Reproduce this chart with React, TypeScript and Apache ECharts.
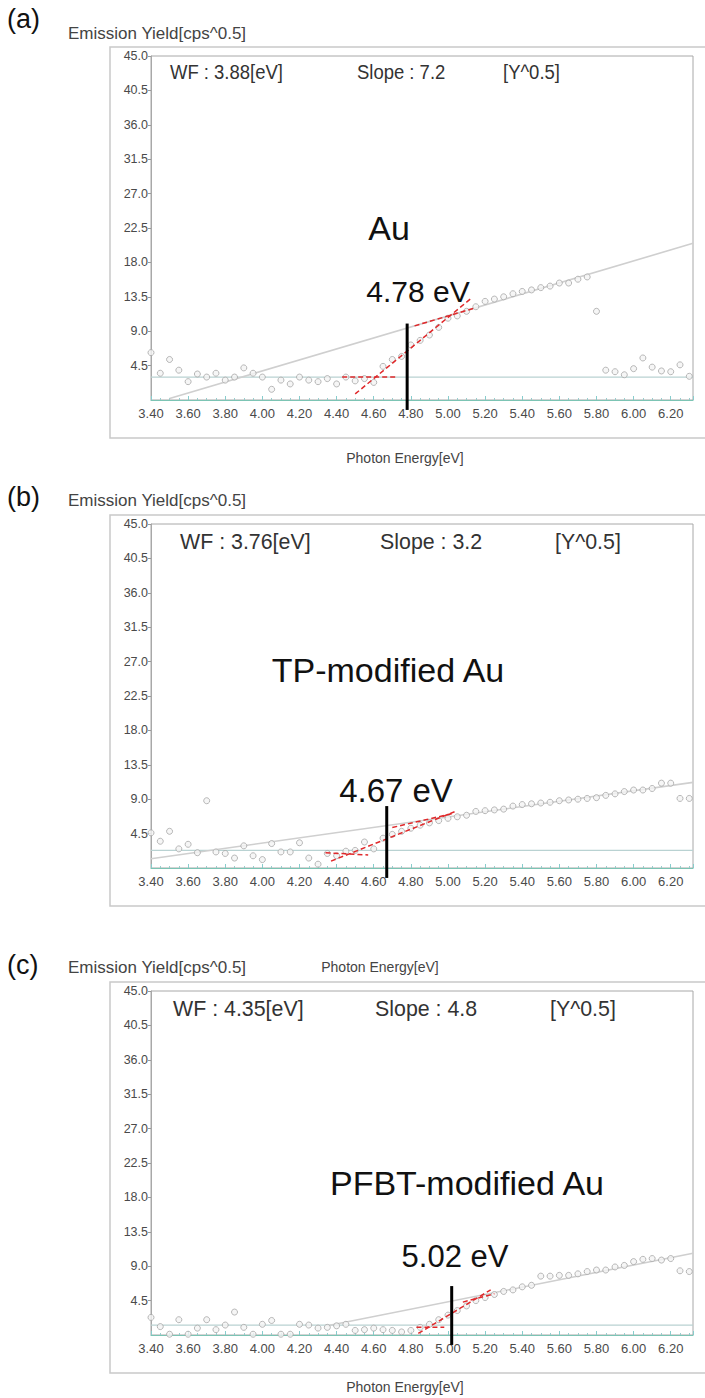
import React, { useEffect, useRef } from "react";
import * as echarts from "echarts";

// ---------- data ----------
const energies = [
  3.40, 3.45, 3.50, 3.55, 3.60, 3.65, 3.70, 3.75, 3.80, 3.85,
  3.90, 3.95, 4.00, 4.05, 4.10, 4.15, 4.20, 4.25, 4.30, 4.35,
  4.40, 4.45, 4.50, 4.55, 4.60, 4.65, 4.70, 4.75, 4.80, 4.85,
  4.90, 4.95, 5.00, 5.05, 5.10, 5.15, 5.20, 5.25, 5.30, 5.35,
  5.40, 5.45, 5.50, 5.55, 5.60, 5.65, 5.70, 5.75, 5.80, 5.85,
  5.90, 5.95, 6.00, 6.05, 6.10, 6.15, 6.20, 6.25, 6.30,
];

const yieldAu = [
  6.2, 3.5, 5.3, 3.9, 2.4, 3.4, 3.0, 3.5, 2.6, 3.0,
  4.2, 3.5, 3.0, 1.4, 2.6, 2.1, 3.0, 2.6, 2.4, 2.8,
  2.1, 3.0, 2.5, 2.8, 2.3, 4.4, 5.3, 5.7, 7.2, 7.8,
  8.5, 9.5, 10.7, 11.0, 11.6, 12.2, 12.9, 13.2, 13.5, 13.9,
  14.2, 14.4, 14.7, 14.9, 15.3, 15.3, 15.8, 16.1, 11.6, 3.9,
  3.7, 3.3, 4.1, 5.5, 4.3, 3.8, 3.7, 4.6, 3.1,
];

const yieldTP = [
  4.6, 3.5, 4.8, 2.5, 3.1, 2.0, 8.8, 2.1, 1.9, 1.3,
  2.9, 1.6, 1.1, 3.2, 2.1, 2.1, 3.3, 1.3, 0.5, 1.9,
  1.6, 2.2, 2.3, 3.4, 2.5, 3.9, 4.4, 4.8, 5.2, 5.6,
  5.9, 6.2, 6.5, 6.7, 6.9, 7.4, 7.5, 7.6, 7.7, 8.1,
  8.3, 8.4, 8.5, 8.6, 8.8, 8.9, 9.0, 9.1, 9.2, 9.5,
  9.7, 10.0, 10.2, 10.2, 10.4, 11.1, 11.1, 9.1, 9.1,
];

const yieldPFBT = [
  2.3, 1.1, 0.1, 2.0, 0.1, 0.9, 2.0, 0.7, 1.3, 3.0,
  1.0, 0.1, 1.4, 1.9, 0.1, 0.1, 1.4, 1.3, 0.9, 1.0,
  1.2, 1.4, 0.6, 0.7, 0.9, 0.7, 0.6, 0.4, 0.6, 1.0,
  1.4, 2.0, 2.6, 3.2, 3.8, 4.5, 4.9, 5.3, 5.7, 5.9,
  6.3, 6.5, 7.7, 7.7, 7.8, 7.8, 8.0, 8.3, 8.5, 8.5,
  8.9, 9.1, 9.6, 9.9, 10.0, 9.8, 10.0, 8.4, 8.3,
];

// regression / guide lines [x, y]
const fitAu = [[3.50, 0.2], [6.32, 20.5]];
const baseAu = [[3.40, 3.0], [6.32, 3.0]];
const tangentsAu = [
  [[4.43, 3.0], [4.73, 3.0]],
  [[4.50, 0.8], [5.12, 13.2]],
  [[4.82, 9.7], [5.14, 12.0]],
];
const onsetAu = 4.78;
const onsetTopAu = 10.0;

const fitTP = [[3.40, 1.2], [6.32, 11.2]];
const baseTP = [[3.40, 2.3], [6.32, 2.3]];
const tangentsTP = [
  [[4.34, 2.0], [4.57, 1.7]],
  [[4.37, 0.9], [5.05, 7.5]],
  [[4.70, 5.3], [5.02, 7.1]],
];
const onsetTP = 4.67;
const onsetTopTP = 8.1;

const fitPFBT = [[4.35, 1.2], [6.32, 10.7]];
const basePFBT = [[3.40, 1.3], [6.32, 1.3]];
const tangentsPFBT = [
  [[4.83, 1.0], [4.98, 1.0]],
  [[4.84, 0.2], [5.23, 5.9]],
  [[5.08, 4.3], [5.25, 5.4]],
];
const onsetPFBT = 5.02;
const onsetTopPFBT = 6.4;

const panelLetters = ["(a)", "(b)", "(c)"];
const sampleNames = ["Au", "TP-modified Au", "PFBT-modified Au"];
const wfTexts = ["WF : 3.88[eV]", "WF : 3.76[eV]", "WF : 4.35[eV]"];
const slopeTexts = ["Slope : 7.2", "Slope : 3.2", "Slope : 4.8"];
const unitText = "[Y^0.5]";
const onsetTexts = ["4.78 eV", "4.67 eV", "5.02 eV"];
const yTitle = "Emission Yield[cps^0.5]";
const xTitle = "Photon Energy[eV]";

const xMin = 3.4;
const xMax = 6.32;
const xStep = 0.2;
const yMin = 0;
const yMax = 45;
const yStep = 4.5;

// ---------- layout (positions only) ----------
const layouts = [
  { top: 56, boxTop: 47, letterY: 19, titleY: 33, wfY: 72, wfX: 170, slopeX: 357, unitX: 503, wfSize: 21, wfScale: 0.88,
    sampleX: 389, sampleY: 228, onsetX: 418, onsetY: 291, onsetSize: 30 },
  { top: 524, boxTop: 515, letterY: 497, titleY: 500, wfY: 541, wfX: 180, slopeX: 380, unitX: 555, wfSize: 23, wfScale: 0.93,
    sampleX: 388, sampleY: 670, onsetX: 396, onsetY: 790, onsetSize: 33 },
  { top: 991, boxTop: 982, letterY: 965, titleY: 967, wfY: 1008, wfX: 173, slopeX: 375, unitX: 550, wfSize: 23, wfScale: 0.93,
    sampleX: 467, sampleY: 1183, onsetX: 455, onsetY: 1256, onsetSize: 31 },
];
const gridLeft = 151;
const gridWidth = 542;
const gridHeight = 344;

const FONT = "'Liberation Sans', Arial, sans-serif";

function buildOption() {
  const yields = [yieldAu, yieldTP, yieldPFBT];
  const fits = [fitAu, fitTP, fitPFBT];
  const bases = [baseAu, baseTP, basePFBT];
  const tangents = [tangentsAu, tangentsTP, tangentsPFBT];
  const onsets = [onsetAu, onsetTP, onsetPFBT];
  const onsetTops = [onsetTopAu, onsetTopTP, onsetTopPFBT];

  const grid: any[] = [];
  const xAxis: any[] = [];
  const yAxis: any[] = [];
  const series: any[] = [];
  const graphic: any[] = [];

  layouts.forEach((L, i) => {
    grid.push({
      left: gridLeft, top: L.top, width: gridWidth, height: gridHeight,
      show: true, borderColor: "#a8a8a8", borderWidth: 1, backgroundColor: "transparent",
    });
    xAxis.push({
      type: "value", gridIndex: i, min: xMin, max: xMax, interval: xStep,
      axisLine: { show: true, lineStyle: { color: "#7cc4b4", width: 1.2 } },
      axisTick: { show: true, inside: true, length: 4, lineStyle: { color: "#8cc" } },
      minorTick: { show: true, splitNumber: 4, length: 2, lineStyle: { color: "#9cc" } },
      splitLine: { show: false },
      axisLabel: {
        showMaxLabel: false, fontSize: 13, color: "#4a4a4a", fontFamily: FONT, margin: 7,
        formatter: (v: number) => v.toFixed(2),
      },
    });
    yAxis.push({
      type: "value", gridIndex: i, min: yMin, max: yMax, interval: yStep,
      axisLine: { show: true, lineStyle: { color: "#a8a8a8" } },
      axisTick: { show: true, length: 3, lineStyle: { color: "#999" } },
      splitLine: { show: false },
      axisLabel: {
        showMinLabel: false, fontSize: 12.5, color: "#4a4a4a", fontFamily: FONT, margin: 3,
        formatter: (v: number) => v.toFixed(1),
      },
    });

    // guide lines
    series.push({
      type: "line", xAxisIndex: i, yAxisIndex: i, data: bases[i], showSymbol: false,
      lineStyle: { color: "#b9d2d2", width: 1.2 }, silent: true, z: 2,
    });
    series.push({
      type: "line", xAxisIndex: i, yAxisIndex: i, data: fits[i], showSymbol: false,
      lineStyle: { color: "#cfcfcf", width: 1.6 }, silent: true, z: 2,
    });
    // data points
    series.push({
      type: "scatter", xAxisIndex: i, yAxisIndex: i,
      data: energies.map((e, k) => [e, yields[i][k]]),
      symbol: "circle", symbolSize: 6,
      itemStyle: { color: "#f4f4f4", borderColor: "#a6a6a6", borderWidth: 1 },
      z: 3,
    });
    // tangent constructions
    tangents[i].forEach((seg) => {
      series.push({
        type: "line", xAxisIndex: i, yAxisIndex: i, data: seg, showSymbol: false,
        lineStyle: { color: "#e0282a", width: 1.5, type: [5, 3] }, silent: true, z: 4,
      });
    });
    // onset marker
    series.push({
      type: "line", xAxisIndex: i, yAxisIndex: i,
      data: [[onsets[i], -1.3], [onsets[i], onsetTops[i]]], showSymbol: false, clip: false,
      lineStyle: { color: "#000", width: 3 }, silent: true, z: 5,
    });

    // texts and frames
    graphic.push({
      type: "rect", shape: { x: 110, y: L.boxTop, width: 610, height: gridHeight + 47 },
      style: { fill: "none", stroke: "#c9c9c9", lineWidth: 1.5 }, silent: true,
    });
    graphic.push({
      type: "text", x: 7, y: L.letterY,
      style: { text: panelLetters[i], font: `27px ${FONT}`, fill: "#111", verticalAlign: "middle" },
    });
    graphic.push({
      type: "text", x: 68, y: L.titleY,
      style: { text: yTitle, font: `17px ${FONT}`, fill: "#444", verticalAlign: "middle" },
    });
    graphic.push({
      type: "text", x: L.wfX, y: L.wfY, scaleX: L.wfScale,
      style: { text: wfTexts[i], font: `${L.wfSize}px ${FONT}`, fill: "#333", verticalAlign: "middle" },
    });
    graphic.push({
      type: "text", x: L.slopeX, y: L.wfY, scaleX: L.wfScale,
      style: { text: slopeTexts[i], font: `${L.wfSize}px ${FONT}`, fill: "#333", verticalAlign: "middle" },
    });
    graphic.push({
      type: "text", x: L.unitX, y: L.wfY, scaleX: L.wfScale,
      style: { text: unitText, font: `${L.wfSize}px ${FONT}`, fill: "#333", verticalAlign: "middle" },
    });
    graphic.push({
      type: "text", x: L.sampleX, y: L.sampleY,
      style: { text: sampleNames[i], font: `34px ${FONT}`, fill: "#111", align: "center", verticalAlign: "middle" },
    });
    graphic.push({
      type: "text", x: L.onsetX, y: L.onsetY,
      style: { text: onsetTexts[i], font: `${L.onsetSize}px ${FONT}`, fill: "#111", align: "center", verticalAlign: "middle" },
    });
  });

  graphic.push({
    type: "text", x: 405, y: 458,
    style: { text: xTitle, font: `14px ${FONT}`, fill: "#444", align: "center", verticalAlign: "middle" },
  });
  graphic.push({
    type: "text", x: 380, y: 967,
    style: { text: xTitle, font: `14px ${FONT}`, fill: "#444", align: "center", verticalAlign: "middle" },
  });
  graphic.push({
    type: "text", x: 405, y: 1387,
    style: { text: xTitle, font: `14px ${FONT}`, fill: "#444", align: "center", verticalAlign: "middle" },
  });

  return {
    animation: false,
    backgroundColor: "#ffffff",
    grid, xAxis, yAxis, series, graphic,
  };
}

export default function App() {
  const ref = useRef<HTMLDivElement>(null);
  useEffect(() => {
    const chart = echarts.init(ref.current!, null, { renderer: "svg" });
    chart.setOption(buildOption());
    return () => chart.dispose();
  }, []);
  return (
    <div
      ref={ref}
      style={{ position: "absolute", left: 0, top: 0, width: 705, height: 1398, background: "#fff" }}
    />
  );
}
